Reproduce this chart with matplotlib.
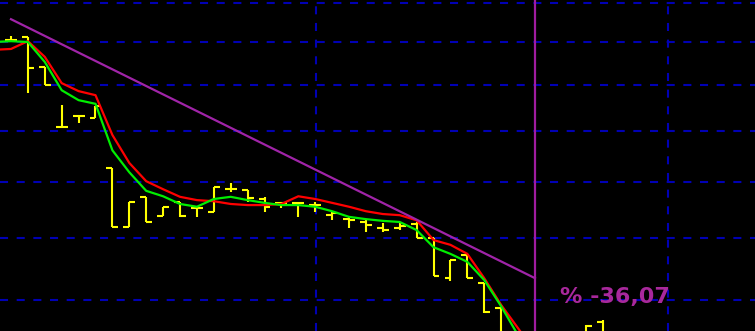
import numpy as np
import matplotlib.pyplot as plt

plt.rcParams['lines.scale_dashes'] = False

# OHLC price bars (log price scale)
opens = [13.06, 13.13, 12.41, 11.08, 11.32, 11.27, 10.26, 9.18, 9.72, 9.38,
         9.63, 9.52, 9.45, 9.86, 9.85, 9.68, 9.61, 9.61, 9.57, 9.39,
         9.32, 9.27, 9.17, 9.17, 9.23, 8.99, 8.34, 8.71, 8.26, 7.88,
         7.45, 7.25, 7.10, 7.15, 7.40, 7.68]
highs = [13.16, 13.13, 12.41, 11.55, 11.32, 11.53, 10.26, 9.63, 9.72, 9.54,
         9.63, 9.54, 9.90, 9.98, 9.85, 9.72, 9.61, 9.61, 9.63, 9.45,
         9.36, 9.30, 9.25, 9.27, 9.27, 8.99, 8.63, 8.71, 8.26, 7.88,
         7.50, 7.30, 7.20, 7.40, 7.64, 7.71]
lows = [13.01, 11.82, 12.00, 11.08, 11.17, 11.27, 9.18, 9.18, 9.27, 9.38,
        9.36, 9.36, 9.45, 9.81, 9.63, 9.45, 9.52, 9.36, 9.45, 9.30,
        9.17, 9.10, 9.10, 9.13, 8.99, 8.37, 8.30, 8.34, 7.81, 7.40,
        7.20, 7.05, 7.00, 7.10, 7.35, 7.40]
closes = [13.06, 12.39, 12.00, 11.08, 11.32, 11.53, 9.18, 9.63, 9.27, 9.54,
          9.38, 9.52, 9.90, 9.86, 9.70, 9.54, 9.61, 9.61, 9.57, 9.43,
          9.30, 9.22, 9.13, 9.20, 8.99, 8.37, 8.63, 8.34, 7.82, 7.45,
          7.25, 7.10, 7.15, 7.35, 7.62, 7.50]

# moving averages, starting one bar before the first price bar
red_ma = [12.82, 12.84, 13.03, 12.65, 12.04, 11.86, 11.77, 10.92, 10.36, 10.01,
          9.86, 9.72, 9.66, 9.64, 9.59, 9.57, 9.57, 9.59, 9.73, 9.68,
          9.61, 9.54, 9.46, 9.41, 9.39, 9.30, 8.96, 8.88, 8.73, 8.34,
          7.93, 7.59, 7.26]
green_ma = [13.01, 13.03, 13.01, 12.53, 11.88, 11.66, 11.58, 10.61, 10.18, 9.83,
            9.73, 9.59, 9.54, 9.68, 9.72, 9.66, 9.61, 9.57, 9.57, 9.54,
            9.46, 9.36, 9.32, 9.29, 9.27, 9.13, 8.84, 8.73, 8.60, 8.31,
            7.91, 7.49]

trend_x = [0, 31]
trend_y = [13.58, 8.34]
marker_bar = 31
label = "% -36,07"

grid_prices = [8, 9, 10, 11, 12, 13, 14]
grid_bars = [18.05, 38.9]

idx = np.arange(len(opens))
tick = 0.35

fig = plt.figure(figsize=(7.55, 3.31), dpi=100, facecolor='black')
ax = fig.add_axes([0, 0, 1, 1], facecolor='black')
ax.set_yscale('log')
ax.set_xlim(-0.65, 44.02)
ax.set_ylim(7.55, 14.08)

grid_col = '#0000b4'
for p in grid_prices:
    ax.axhline(p, color=grid_col, lw=1.5, dashes=(5.8, 6.2), zorder=1)
for b in grid_bars:
    ax.axvline(b, color=grid_col, lw=1.5, dashes=(5.8, 6.2), zorder=1)

bar_col = '#ffff00'
ax.vlines(idx, lows, highs, color=bar_col, lw=1.5, zorder=2)
ax.hlines(opens, idx - tick, idx, color=bar_col, lw=1.5, zorder=2)
ax.hlines(closes, idx, idx + tick, color=bar_col, lw=1.5, zorder=2)

ax.plot(np.arange(len(red_ma)) - 1, red_ma, color='#ff0000', lw=1.6, zorder=3)
ax.plot(np.arange(len(green_ma)) - 1, green_ma, color='#00ee00', lw=1.6, zorder=3)

ax.plot(trend_x, trend_y, color='#a024a8', lw=1.6, zorder=4)
ax.axvline(marker_bar, color='#a01ca0', lw=1.6, zorder=4)

ax.text(0.8146, 0.1027, label, transform=ax.transAxes, ha='center', va='center',
        fontsize=16, fontweight='bold', color='#a8289c', zorder=5)

ax.set_axis_off()
fig.savefig('out.png', dpi=100, facecolor='black')
